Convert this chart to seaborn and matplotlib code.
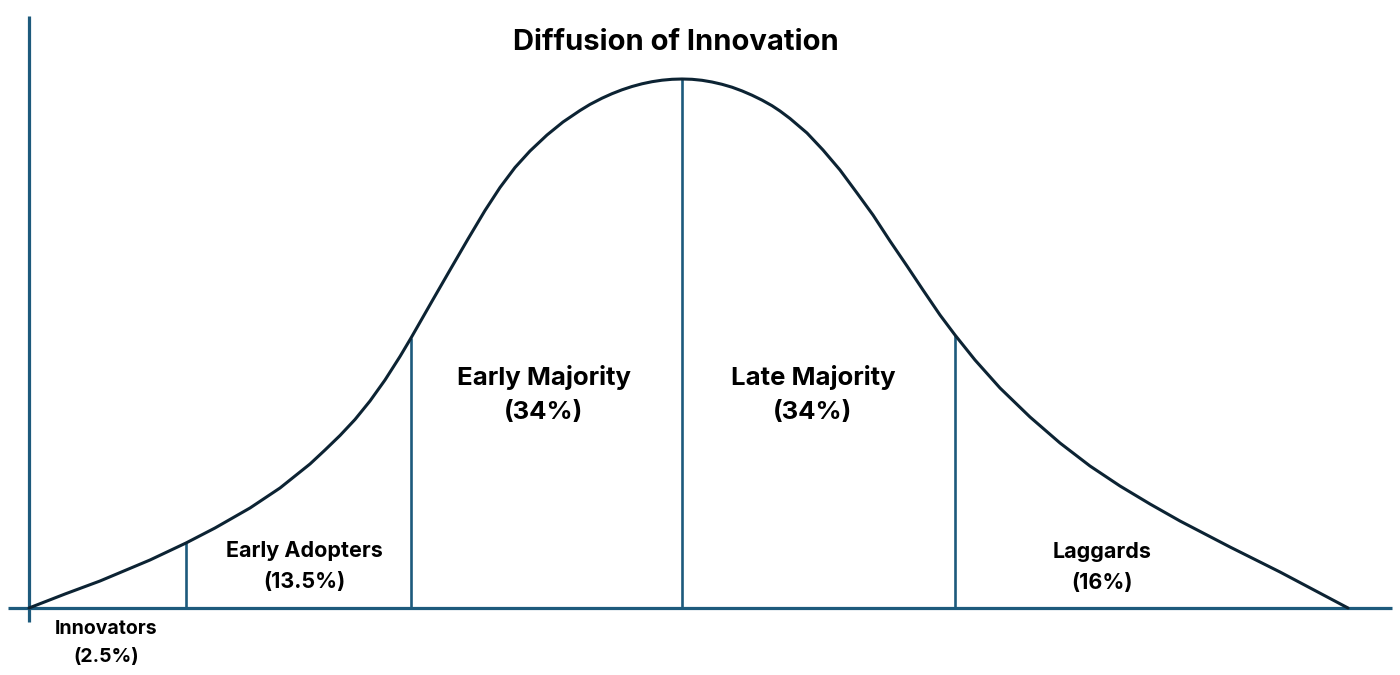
import numpy as np
import matplotlib
matplotlib.use("Agg")
import matplotlib.pyplot as plt
import seaborn as sns

# ---- data (x = position along adoption axis, y = curve height) ----
curve_x = [29, 65, 100, 150, 186, 215, 250, 280, 310, 325, 340, 355, 370, 385, 400, 411,
           433, 450, 468, 485, 500, 515, 530, 547, 563, 580, 590, 602, 612, 622, 632,
           642, 652, 662, 672, 682, 692, 702, 712, 722, 732, 742, 752, 762, 772, 780, 790,
           807, 823, 840, 857, 873, 890, 907, 923, 940,
           955, 975, 1000, 1030, 1060, 1090, 1120, 1150, 1180, 1230, 1280, 1348]
curve_y = [0, 14, 27, 48, 65, 80, 100, 120, 144, 158, 172.5, 188.5, 207, 228, 251.5, 270,
           308.5, 338, 369, 397.5, 420.5, 440.5, 457, 473, 486, 497.5, 503.6, 509.8, 514.3, 518.2, 521.5,
           524.2, 526.3, 527.8, 528.7, 529, 528.7, 527.7, 526, 523.7, 520.8, 517.1, 512.8, 507.9, 502.3, 497, 489.5,
           475, 458, 438, 415, 393, 367, 342, 318, 293,
           273, 248, 220, 191, 165, 142, 122, 104, 87, 61, 36, 0]
boundaries = [186, 411, 682, 955]
segment_names = ["Innovators", "Early Adopters", "Early Majority", "Late Majority", "Laggards"]
segment_shares = ["2.5%", "13.5%", "34%", "34%", "16%"]
title = "Diffusion of Innovation"

sns.set_theme(style="white")
plt.rcParams["font.family"] = ["Inter", "DejaVu Sans"]

fig = plt.figure(figsize=(14, 6.75), dpi=100)
ax = fig.add_axes([0, 0, 1, 1])
ax.set_xlim(0, 1400)
ax.set_ylim(-67, 608)
ax.axis("off")

axis_col = "#1d5a7c"
curve_col = "#0c2333"

# axes lines
ax.plot([29, 29], [-14, 592], color=axis_col, lw=2.3, solid_capstyle="butt")
ax.plot([8, 1392], [0, 0], color=axis_col, lw=2.3, solid_capstyle="butt")

# boundaries
for b in boundaries:
    top = np.interp(b, curve_x, curve_y)
    ax.plot([b, b], [0, top], color=axis_col, lw=1.9, solid_capstyle="butt")

# curve
sns.lineplot(x=curve_x, y=curve_y, sort=False, ax=ax, color=curve_col, lw=2.2)

# labels: (x, y of name, gap to share line, fontsize)
label_pos = [(106, -21, 28, 14), (304, 57, 31, 15.5), (544, 230, 34, 18.5),
             (813, 230, 34, 18.5), (1102, 56, 31, 15.5)]
for name, share, (lx, ly, gap, fs) in zip(segment_names, segment_shares, label_pos):
    ax.text(lx, ly, name, ha="center", va="center", fontsize=fs, fontweight="bold", color="black")
    ax.text(lx, ly - gap, f"({share})", ha="center", va="center", fontsize=fs, fontweight="bold", color="black")

ax.text(676, 566, title, ha="center", va="center", fontsize=21, fontweight="bold", color="black")

fig.savefig("out.png", dpi=100)
